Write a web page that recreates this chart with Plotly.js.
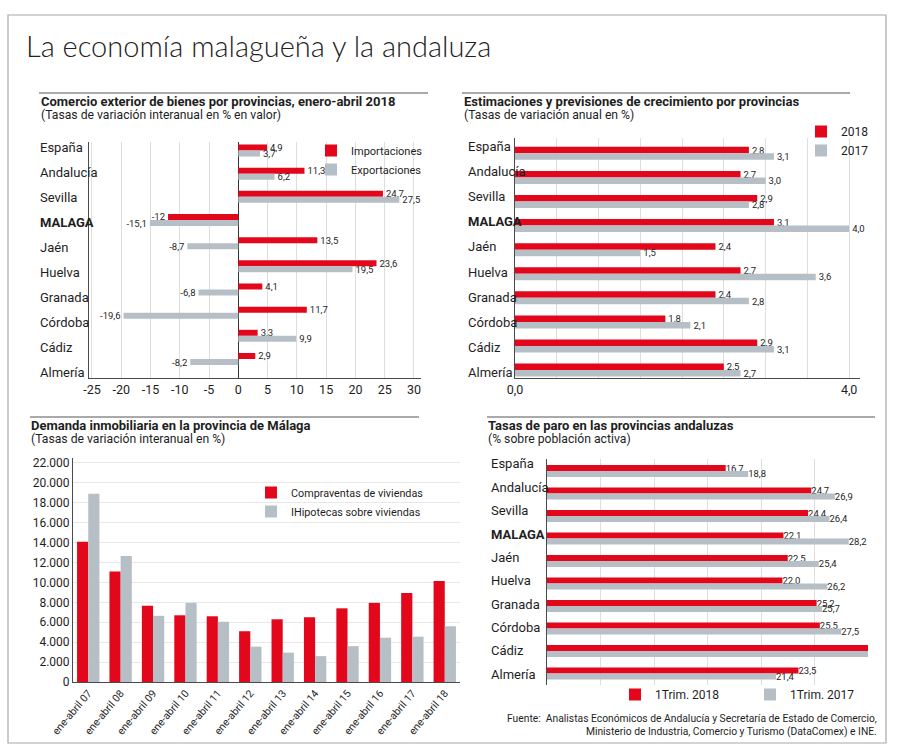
<!DOCTYPE html>
<html>
<head>
<meta charset="utf-8">
<script src="https://cdn.plot.ly/plotly-3.0.1.min.js"></script>
<style>html,body{margin:0;padding:0;background:#fff;}#chart{width:900px;height:751px;}</style>
</head>
<body>
<div id="chart"></div>
<script>
// ---------- DATA ----------
const provincias = ['España','Andalucía','Sevilla','MALAGA','Jaén','Huelva','Granada','Córdoba','Cádiz','Almería'];
// Chart 1: Comercio exterior
const importaciones = [4.9, 11.3, 24.7, -12, 13.5, 23.6, 4.1, 11.7, 3.3, 2.9];
const exportaciones = [3.7, 6.2, 27.5, -15.1, -8.7, 19.5, -6.8, -19.6, 9.9, -8.2];
const ticks1 = [-25, -20, -15, -10, -5, 0, 5, 10, 15, 20, 25, 30];
// Chart 2: Crecimiento
const crec2018 = [2.8, 2.7, 2.9, 3.1, 2.4, 2.7, 2.4, 1.8, 2.9, 2.5];
const crec2017 = [3.1, 3.0, 2.8, 4.0, 1.5, 3.6, 2.8, 2.1, 3.1, 2.7];
const ticks2 = [0, 0.5, 1, 1.5, 2, 2.5, 3, 3.5, 4];
const ticks2Text = ['0,0', '', '', '', '', '', '', '', '4,0'];
// Chart 3: Demanda inmobiliaria
const periodos = ['ene-abril 07','ene-abril 08','ene-abril 09','ene-abril 10','ene-abril 11','ene-abril 12','ene-abril 13','ene-abril 14','ene-abril 15','ene-abril 16','ene-abril 17','ene-abril 18'];
const compraventas = [14100, 11100, 7650, 6700, 6600, 5100, 6300, 6500, 7400, 7950, 8950, 10150];
const hipotecas = [18900, 12650, 6650, 7950, 6050, 3550, 2950, 2600, 3600, 4450, 4550, 5600];
const ticks3 = [0, 2000, 4000, 6000, 8000, 10000, 12000, 14000, 16000, 18000, 20000, 22000];
// Chart 4: Tasas de paro
const paro2018 = [16.7, 24.7, 24.4, 22.1, 22.5, 22.0, 25.2, 25.5, 30, 23.5];
const paro2017 = [18.8, 26.9, 26.4, 28.2, 25.4, 26.2, 25.7, 27.5, 30, 21.4];
const paroSinEtiqueta = ['Cádiz'];

// ---------- STYLE ----------
const F = 'Roboto, "Noto Sans", sans-serif';
const RED = '#e2071b';
const GREY = '#b6bfc6';
const TXT = '#1e1e1e';
const W = 900, H = 751;
const px = x => x / W;
const py = y => 1 - y / H;

const fmtA = v => Number.isInteger(v) ? String(v) : v.toFixed(1).replace('.', ',');
const fmtB = v => v.toFixed(1).replace('.', ',');
const valFont = {family: F, size: 9.5, color: TXT};

function hbar(name, vals, cats, color, xa, ya, off, wd, fmt, legend, hide) {
  return {
    type: 'bar', orientation: 'h', name: name,
    x: vals, y: cats, xaxis: xa, yaxis: ya,
    marker: {color: color, line: {width: 0}},
    offset: off, width: wd,
    text: vals.map((v, i) => (hide && hide.includes(cats[i])) ? '' : fmt(v)),
    textposition: 'outside', textangle: 0, constraintext: 'none', cliponaxis: false,
    textfont: valFont, hoverinfo: 'x+y', legend: legend
  };
}

const traces = [
  hbar('Importaciones', importaciones, provincias, RED, 'x', 'y', -0.26, 0.26, fmtA, 'legend'),
  hbar('Exportaciones', exportaciones, provincias, GREY, 'x', 'y', 0, 0.26, fmtA, 'legend'),
  hbar('2018', crec2018, provincias, RED, 'x2', 'y2', -0.27, 0.27, fmtB, 'legend2'),
  hbar('2017', crec2017, provincias, GREY, 'x2', 'y2', 0, 0.27, fmtB, 'legend2'),
  {type: 'bar', name: 'Compraventas de viviendas', x: periodos, y: compraventas, xaxis: 'x3', yaxis: 'y3',
   marker: {color: RED}, offset: -0.345, width: 0.345, legend: 'legend3'},
  {type: 'bar', name: 'IHipotecas sobre viviendas', x: periodos, y: hipotecas, xaxis: 'x3', yaxis: 'y3',
   marker: {color: GREY}, offset: 0, width: 0.345, legend: 'legend3'},
  hbar('1Trim. 2018', paro2018, provincias, RED, 'x4', 'y4', -0.265, 0.265, fmtB, 'legend4', paroSinEtiqueta),
  hbar('1Trim. 2017', paro2017, provincias, GREY, 'x4', 'y4', 0, 0.265, fmtB, 'legend4', paroSinEtiqueta),
  // carriers for the label axes
  {type: 'scatter', x: [null], y: [null], xaxis: 'x', yaxis: 'y5', showlegend: false, hoverinfo: 'skip'},
  {type: 'scatter', x: [null], y: [null], xaxis: 'x2', yaxis: 'y6', showlegend: false, hoverinfo: 'skip'},
  {type: 'scatter', x: [null], y: [null], xaxis: 'x4', yaxis: 'y7', showlegend: false, hoverinfo: 'skip'}
];
traces[6].cliponaxis = true;
traces[7].cliponaxis = true;

const axLine = '#4a4a4a';
const gridC = '#dedede';
const tickF = {family: F, size: 12, color: TXT};

const annotations = [];
function ann(text, x, y, size, opts) {
  annotations.push(Object.assign({text: text, x: x, y: y, xref: 'paper', yref: 'paper',
    xanchor: 'left', yanchor: 'middle', showarrow: false,
    font: {family: F, size: size, color: TXT}}, opts || {}));
}
// main title
ann('La economía malagueña y la andaluza', px(24), py(45), 29,
  {font: {family: '"Lato Light", Lato, "Open Sans", sans-serif', size: 29, color: '#222', weight: 300}});
// section titles
const TS = 13, SS = 12.2;
ann('<b>Comercio exterior de bienes por provincias, enero-abril 2018</b>', px(39), py(101), TS);
ann('(Tasas de variación interanual en % en valor)', px(39), py(115), SS);
ann('<b>Estimaciones y previsiones de crecimiento por provincias</b>', px(462), py(101), TS);
ann('(Tasas de variación anual en %)', px(462), py(115), SS);
ann('<b>Demanda inmobiliaria en la provincia de Málaga</b>', px(29), py(425), TS);
ann('(Tasas de variación interanual en %)', px(29), py(439), SS);
ann('<b>Tasas de paro en las provincias andaluzas</b>', px(486), py(425), TS);
ann('(% sobre población activa)', px(486), py(439), SS);
// source
ann('Fuente:  Analistas Económicos de Andalucía y Secretaría de Estado de Comercio,<br>Ministerio de Industria, Comercio y Turismo (DataComex) e INE.',
  px(879), py(725), 10.3, {xanchor: 'right', align: 'right'});
// category labels (left aligned)
function catLabels(xPix, yref) {
  provincias.forEach((p, i) => {
    annotations.push({text: p === 'MALAGA' ? '<b>' + p + '</b>' : p, x: px(xPix), xref: 'paper',
      y: i, yref: yref, xanchor: 'left', yanchor: 'middle', showarrow: false,
      font: {family: F, size: 13, color: TXT}});
  });
}
catLabels(38, 'y5');
catLabels(466, 'y6');
catLabels(489, 'y7');

const lineC = '#555';
const shapes = [
  {type: 'rect', xref: 'paper', yref: 'paper', x0: px(8), x1: px(886), y0: py(15), y1: py(743), line: {color: '#a8a8a8', width: 1.2}},
  {type: 'line', xref: 'paper', yref: 'paper', x0: px(39), x1: px(428), y0: py(93), y1: py(93), line: {color: lineC, width: 1}},
  {type: 'line', xref: 'paper', yref: 'paper', x0: px(462), x1: px(850), y0: py(93), y1: py(93), line: {color: lineC, width: 1}},
  {type: 'line', xref: 'paper', yref: 'paper', x0: px(30), x1: px(419), y0: py(417), y1: py(417), line: {color: lineC, width: 1}},
  {type: 'line', xref: 'paper', yref: 'paper', x0: px(487), x1: px(875), y0: py(417), y1: py(417), line: {color: lineC, width: 1}}
];

const legBase = {xanchor: 'left', yanchor: 'top', bgcolor: 'rgba(0,0,0,0)', borderwidth: 0,
  itemclick: false, itemdoubleclick: false, tracegroupgap: 0};

const layout = {
  width: W, height: H,
  margin: {l: 0, r: 0, t: 0, b: 0},
  paper_bgcolor: '#fff', plot_bgcolor: 'rgba(0,0,0,0)',
  separators: ',.',
  barmode: 'group',
  font: {family: F, size: 12, color: TXT},
  showlegend: true,
  legend: Object.assign({}, legBase, {x: px(311), y: py(136), font: {family: F, size: 11, color: TXT}}),
  legend2: Object.assign({}, legBase, {x: px(801), y: py(117), font: {family: F, size: 12, color: TXT}}),
  legend3: Object.assign({}, legBase, {x: px(251), y: py(478), font: {family: F, size: 10.8, color: TXT}}),
  legend4: Object.assign({}, legBase, {x: px(615), y: py(680), orientation: 'h', entrywidth: 90, entrywidthmode: 'pixels',
    font: {family: F, size: 12, color: TXT}}),
  // chart 1
  xaxis: {domain: [px(89), px(421)], range: [-25.5, 31.2], anchor: 'y', tickvals: ticks1, ticktext: ticks1.map(String),
    showgrid: true, gridcolor: gridC, zeroline: true, zerolinecolor: '#333', zerolinewidth: 1.5,
    showline: true, linecolor: axLine, ticks: '', tickfont: {family: F, size: 12.5, color: TXT}, fixedrange: true},
  yaxis: {domain: [py(378), py(142)], type: 'category', categoryarray: provincias, range: [9.82, -0.367], anchor: 'x',
    showline: true, linecolor: axLine, showticklabels: false, showgrid: false, zeroline: false, ticks: '', fixedrange: true},
  yaxis5: {overlaying: 'y', anchor: 'x', range: [9.24, -0.2], visible: false, fixedrange: true},
  // chart 2
  xaxis2: {domain: [px(515), px(860)], range: [0, 4.13], anchor: 'y2', tickvals: ticks2, ticktext: ticks2Text,
    showgrid: true, gridcolor: gridC, zeroline: false, showline: true, linecolor: axLine, ticks: '', tickfont: {family: F, size: 12.5, color: TXT}, fixedrange: true},
  yaxis2: {domain: [py(378), py(138)], type: 'category', categoryarray: provincias, range: [9.33, -0.636], anchor: 'x2',
    showline: true, linecolor: axLine, showticklabels: false, showgrid: false, zeroline: false, ticks: '', fixedrange: true},
  yaxis6: {overlaying: 'y2', anchor: 'x2', range: [9.24, -0.36], visible: false, fixedrange: true},
  // chart 3
  xaxis3: {domain: [px(73), px(460)], type: 'category', categoryarray: periodos, range: [-0.47, 11.47], anchor: 'y3',
    tickangle: -50, showline: true, linecolor: axLine, ticks: '', showgrid: false, tickfont: {family: F, size: 10.5, color: TXT}, fixedrange: true},
  yaxis3: {domain: [py(682), py(458)], range: [0, 22500], anchor: 'x3', tickvals: ticks3, tickformat: ',d',
    showgrid: true, gridcolor: '#e8e8e8', showline: true, linecolor: axLine, zeroline: false, ticks: '', tickfont: tickF, fixedrange: true},
  // chart 4
  xaxis4: {domain: [px(547), px(868)], range: [0, 30], anchor: 'y4', dtick: 5, tick0: 0, showticklabels: false,
    showgrid: true, gridcolor: gridC, zeroline: false, showline: false, ticks: '', fixedrange: true},
  yaxis4: {domain: [py(685), py(459)], type: 'category', categoryarray: provincias, range: [9.51, -0.533], anchor: 'x4',
    showline: true, linecolor: axLine, showticklabels: false, showgrid: false, zeroline: false, ticks: '', fixedrange: true},
  yaxis7: {overlaying: 'y4', anchor: 'x4', range: [9.47, -0.214], visible: false, fixedrange: true},
  annotations: annotations,
  shapes: shapes
};

Plotly.newPlot('chart', traces, layout, {displayModeBar: false, staticPlot: true});
</script>
</body>
</html>
